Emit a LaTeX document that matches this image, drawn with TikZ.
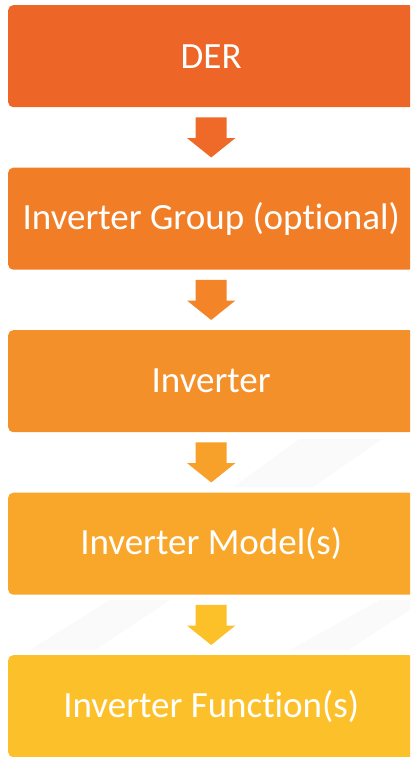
\documentclass[tikz,border=0pt]{standalone}
\usepackage{fontspec}
\setmainfont{Carlito}[RawFeature=-liga]
\usetikzlibrary{calc}
\definecolor{c1}{HTML}{EE6528}
\definecolor{c2}{HTML}{F17E27}
\definecolor{c3}{HTML}{F4902A}
\definecolor{c4}{HTML}{F8A72B}
\definecolor{c5}{HTML}{FCC12A}
\definecolor{a1}{HTML}{EF6A28}
\definecolor{a2}{HTML}{F38427}
\definecolor{a3}{HTML}{F7A02A}
\definecolor{a4}{HTML}{FCC128}
\definecolor{wm}{HTML}{FAFAFA}
\tikzset{
  box/.style={rectangle, rounded corners=5pt, minimum width=406pt, minimum height=102pt,
    inner sep=0pt, text=white, font=\fontsize{37}{42}\selectfont, anchor=north west},
}
\newcommand{\blockarrow}[2]{%
  \fill[#2] ($(#1)+(-15.5pt,20pt)$) -- ($(#1)+(15.5pt,20pt)$) -- ($(#1)+(15.5pt,-0.75pt)$)
    -- ($(#1)+(24pt,-0.75pt)$) -- ($(#1)+(0pt,-20pt)$) -- ($(#1)+(-24pt,-0.75pt)$)
    -- ($(#1)+(-15.5pt,-0.75pt)$) -- cycle;}
\begin{document}
\begin{tikzpicture}[x=1pt,y=-1pt]
\path[use as bounding box] (0,0) rectangle (410,757);
\clip (0,0) rectangle (410,757);
\fill[white] (0,0) rectangle (410,757);
% faint watermark stripes
\fill[wm] (300,439) -- (382,439) -- (313,487) -- (233,487) -- cycle;
\fill[wm] (110,600) -- (170,600) -- (95,650) -- (30,650) -- cycle;
\fill[wm] (380,600) -- (410,600) -- (410,610) -- (348,650) -- (290,650) -- cycle;
\node[box, fill=c1] (b1) at (8,5) {DER};
\node[box, fill=c2] (b2) at (8,167.5) {Inverter Group (optional)};
\node[box, fill=c3] (b3) at (8,330) {Inverter};
\node[box, fill=c4] (b4) at (8,492.5) {Inverter Model(s)};
\node[box, fill=c5] (b5) at (8,655) {Inverter Function(s)};
\coordinate (m1) at ($(b1.south)!0.5!(b2.north)$);
\coordinate (m2) at ($(b2.south)!0.5!(b3.north)$);
\coordinate (m3) at ($(b3.south)!0.5!(b4.north)$);
\coordinate (m4) at ($(b4.south)!0.5!(b5.north)$);
\blockarrow{m1}{a1}
\blockarrow{m2}{a2}
\blockarrow{m3}{a3}
\blockarrow{m4}{a4}
\end{tikzpicture}
\end{document}
